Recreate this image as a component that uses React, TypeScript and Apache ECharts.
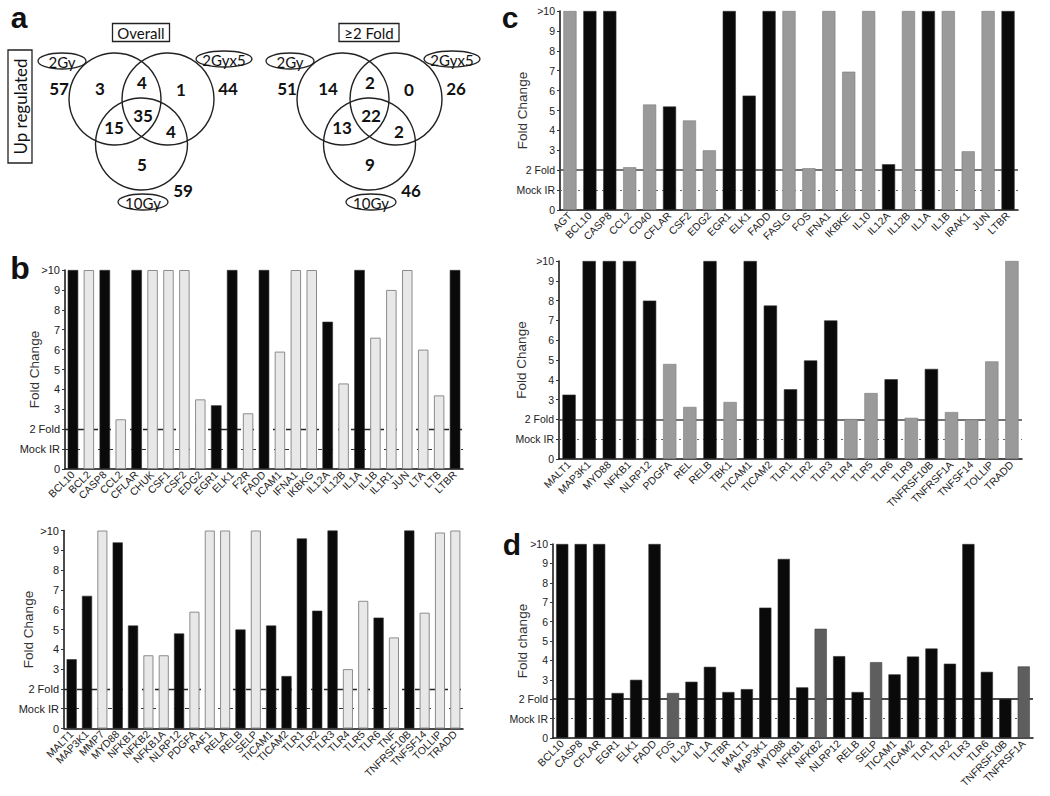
import React, { useEffect, useRef } from "react";
import * as echarts from "echarts";

// ---------- Panel a (Venn counts) ----------
// order: outLeft, leftOnly, topPair, rightOnly, outRight, center, leftBottom, rightBottom, bottomOnly, outBottom
const overallCounts = ["57", "3", "4", "1", "44", "35", "15", "4", "5", "59"];
const foldCounts = ["51", "14", "2", "0", "26", "22", "13", "2", "9", "46"];
const vennSets = ["2Gy", "2Gyx5", "10Gy"];

// ---------- Panel b ----------
const bTopGenes = ["BCL10", "BCL2", "CASP8", "CCL2", "CFLAR", "CHUK", "CSF1", "CSF2", "EDG2", "EGR1", "ELK1", "F2R", "FADD", "ICAM1", "IFNA1", "IKBKG", "IL12A", "IL12B", "IL1A", "IL1B", "IL1R1", "JUN", "LTA", "LTB", "LTBR"];
const bTopValues = [10, 10, 10, 2.5, 10, 10, 10, 10, 3.5, 3.2, 10, 2.8, 10, 5.9, 10, 10, 7.4, 4.3, 10, 6.6, 9.0, 10, 6.0, 3.7, 10];
const bTopShade = ["k", "l", "k", "l", "k", "l", "l", "l", "l", "k", "k", "l", "k", "l", "l", "l", "k", "l", "k", "l", "l", "l", "l", "l", "k"];

const bBotGenes = ["MALT1", "MAP3K1", "MMP7", "MYD88", "NFKB1", "NFKB2", "NFKB1A", "NLRP12", "PDGFA", "RAF1", "RELA", "RELB", "SELP", "TICAM1", "TICAM2", "TLR1", "TLR2", "TLR3", "TLR4", "TLR5", "TLR6", "TNF", "TNFRSF10B", "TNFSF14", "TOLLIP", "TRADD"];
const bBotValues = [3.5, 6.7, 10, 9.4, 5.2, 3.7, 3.7, 4.8, 5.9, 10, 10, 5.0, 10, 5.2, 2.65, 9.6, 5.95, 10, 3.0, 6.45, 5.6, 4.6, 10, 5.85, 9.9, 10];
const bBotShade = ["k", "k", "l", "k", "k", "l", "l", "k", "l", "l", "l", "k", "l", "k", "k", "k", "k", "k", "l", "l", "k", "l", "k", "l", "l", "l"];

// ---------- Panel c ----------
const cTopGenes = ["AGT", "BCL10", "CASP8", "CCL2", "CD40", "CFLAR", "CSF2", "EDG2", "EGR1", "ELK1", "FADD", "FASLG", "FOS", "IFNA1", "IKBKE", "IL10", "IL12A", "IL12B", "IL1A", "IL1B", "IRAK1", "JUN", "LTBR"];
const cTopValues = [10, 10, 10, 2.15, 5.3, 5.2, 4.5, 3.0, 10, 5.75, 10, 10, 2.1, 10, 6.95, 10, 2.3, 10, 10, 10, 2.95, 10, 10];
const cTopShade = ["g", "k", "k", "g", "g", "k", "g", "g", "k", "k", "k", "g", "g", "g", "g", "g", "k", "g", "k", "g", "g", "g", "k"];

const cBotGenes = ["MALT1", "MAP3K1", "MYD88", "NFKB1", "NLRP12", "PDGFA", "REL", "RELB", "TBK1", "TICAM1", "TICAM2", "TLR1", "TLR2", "TLR3", "TLR4", "TLR5", "TLR6", "TLR9", "TNFRSF10B", "TNFRSF1A", "TNFSF14", "TOLLIP", "TRADD"];
const cBotValues = [3.25, 10, 10, 10, 8.0, 4.8, 2.63, 10, 2.88, 10, 7.75, 3.52, 4.98, 7.0, 2.02, 3.33, 4.03, 2.08, 4.55, 2.37, 2.0, 4.93, 10];
const cBotShade = ["k", "k", "k", "k", "k", "g", "g", "k", "g", "k", "k", "k", "k", "k", "g", "g", "k", "g", "k", "g", "g", "g", "g"];

// ---------- Panel d ----------
const dGenes = ["BCL10", "CASP8", "CFLAR", "EGR1", "ELK1", "FADD", "FOS", "IL12A", "IL1A", "LTBR", "MALT1", "MAP3K1", "MYD88", "NFKB1", "NFKB2", "NLRP12", "RELB", "SELP", "TICAM1", "TICAM2", "TLR1", "TLR2", "TLR3", "TLR6", "TNFRSF10B", "TNFRSF1A"];
const dValues = [10, 10, 10, 2.32, 3.0, 10, 2.32, 2.9, 3.67, 2.37, 2.52, 6.72, 9.23, 2.61, 5.63, 4.22, 2.37, 3.91, 3.28, 4.2, 4.61, 3.83, 10, 3.41, 2.02, 3.69];
const dShade = ["k", "k", "k", "k", "k", "k", "g", "k", "k", "k", "k", "k", "k", "k", "g", "k", "k", "g", "k", "k", "k", "k", "k", "k", "k", "g"];

const yTickLabels: Record<number, string> = { 0: "0", 1: "Mock IR", 2: "2 Fold", 3: "3", 4: "4", 5: "5", 6: "6", 7: "7", 8: "8", 9: "9", 10: ">10" };

const FONT = "'Liberation Sans', Arial, sans-serif";
const VFONT = "Lato, 'Open Sans', sans-serif";

const paletteB: any = {
  k: { color: "#0a0a0a", borderColor: "#333", borderWidth: 0.6 },
  l: { color: "#e8e8e8", borderColor: "#8c8c8c", borderWidth: 1 },
};
const paletteC: any = {
  k: { color: "#0a0a0a", borderColor: "#333", borderWidth: 0.6 },
  g: { color: "#9a9a9a", borderColor: "#7a7a7a", borderWidth: 0.6 },
};
const paletteD: any = {
  k: { color: "#0a0a0a", borderColor: "#333", borderWidth: 0.6 },
  g: { color: "#5e5e5e", borderColor: "#444", borderWidth: 0.6 },
};

export default function App() {
  const ref = useRef<HTMLDivElement>(null);

  useEffect(() => {
    if (!ref.current) return;
    const chart = echarts.init(ref.current, undefined, { renderer: "svg" });

    const panels = [
      { genes: bTopGenes, values: bTopValues, shade: bTopShade, pal: paletteB, grid: { left: 65, top: 270, width: 398, height: 199 }, name: "Fold Change", gap: 24, style: "b", fs: 11 },
      { genes: bBotGenes, values: bBotValues, shade: bBotShade, pal: paletteB, grid: { left: 64, top: 530.5, width: 399, height: 198 }, name: "Fold Change", gap: 29, style: "b", fs: 11 },
      { genes: cTopGenes, values: cTopValues, shade: cTopShade, pal: paletteC, grid: { left: 560, top: 11, width: 458, height: 199 }, name: "Fold Change", gap: 31, style: "c", fs: 10.5 },
      { genes: cBotGenes, values: cBotValues, shade: cBotShade, pal: paletteC, grid: { left: 559, top: 261, width: 463, height: 198 }, name: "Fold Change", gap: 31, style: "c", fs: 10.5 },
      { genes: dGenes, values: dValues, shade: dShade, pal: paletteD, grid: { left: 553, top: 544, width: 480, height: 194 }, name: "Fold change", gap: 24, style: "d", fs: 10.5 },
    ];

    const lineStyles: any = {
      b: [
        { yAxis: 2, lineStyle: { color: "#222", type: [7, 6], width: 1.4 } },
        { yAxis: 1, lineStyle: { color: "#333", type: [4, 7], width: 1.2 } },
      ],
      c: [
        { yAxis: 2, lineStyle: { color: "#444", type: "solid", width: 1.5 } },
        { yAxis: 1, lineStyle: { color: "#666", type: [2, 4], width: 1.2 } },
      ],
      d: [
        { yAxis: 2, lineStyle: { color: "#111", type: "solid", width: 1.5 } },
        { yAxis: 1, lineStyle: { color: "#555", type: [2, 4], width: 1.2 } },
      ],
    };

    const grid = panels.map((p) => ({ ...p.grid, containLabel: false }));
    const xAxis = panels.map((p, i) => ({
      type: "category",
      gridIndex: i,
      data: p.genes,
      axisLine: { lineStyle: { color: "#111", width: 1.5 } },
      axisTick: { show: false },
      axisLabel: { rotate: 45, interval: 0, fontSize: 10.5, color: "#222", fontFamily: FONT, margin: 4 },
    }));
    const yAxis = panels.map((p, i) => ({
      type: "value",
      gridIndex: i,
      min: 0,
      max: 10,
      interval: 1,
      name: p.name,
      nameLocation: "middle",
      nameGap: p.gap,
      nameRotate: 90,
      nameMoveOverlap: false,
      nameTextStyle: { fontSize: 13.5, color: "#333", fontFamily: FONT },
      axisLine: { show: true, lineStyle: { color: "#111", width: 1.5 } },
      axisTick: { show: true, length: 3, lineStyle: { color: "#333" } },
      splitLine: { show: false },
      axisLabel: {
        fontSize: p.fs,
        color: "#222",
        fontFamily: FONT,
        margin: 5,
        formatter: (v: number) => yTickLabels[v] ?? "",
      },
    }));
    const series = panels.map((p, i) => ({
      type: "bar",
      xAxisIndex: i,
      yAxisIndex: i,
      z: 3,
      barWidth: "66%",
      data: p.values.map((v, j) => ({ value: v, itemStyle: p.pal[p.shade[j]] })),
      markLine: {
        silent: true,
        z: 1,
        symbol: "none",
        label: { show: false },
        data: lineStyles[p.style],
      },
    }));

    // ---------- Venn graphics ----------
    const stroke = { fill: "none", stroke: "#222", lineWidth: 1.4 };
    const numPos = [
      [59, 88], [100, 88], [142, 82], [181, 89], [228, 88],
      [143, 115], [114, 127], [171, 131], [142, 164], [183, 190],
    ];
    const venn = (ox: number, counts: string[], title: string, tw: number) => {
      const els: any[] = [];
      els.push({ type: "circle", shape: { cx: 115 + ox, cy: 99, r: 46 }, style: stroke });
      els.push({ type: "circle", shape: { cx: 168 + ox, cy: 99, r: 46 }, style: stroke });
      els.push({ type: "circle", shape: { cx: 141.5 + ox, cy: 144, r: 46 }, style: stroke });
      counts.forEach((c, k) => {
        els.push({
          type: "text",
          x: numPos[k][0] + ox,
          y: numPos[k][1],
          style: { text: c, fontSize: 17, fontWeight: "bold", fontFamily: VFONT, fill: "#111", align: "center", verticalAlign: "middle" },
        });
      });
      const ell = [
        { cx: 62, cy: 61, rx: 24, ry: 8 },
        { cx: 224, cy: 59, rx: 28, ry: 8 },
        { cx: 143, cy: 202, rx: 25, ry: 8 },
      ];
      ell.forEach((e, k) => {
        els.push({ type: "ellipse", shape: { cx: e.cx + ox, cy: e.cy, rx: e.rx, ry: e.ry }, style: { fill: "#fff", stroke: "#222", lineWidth: 1.3 }, z: 5 });
        els.push({ type: "text", x: e.cx + ox, y: e.cy + 1, z: 6, style: { text: vennSets[k], fontSize: 15, fontFamily: VFONT, fill: "#111", align: "center", verticalAlign: "middle" } });
      });
      els.push({ type: "rect", shape: { x: 141 + ox - tw / 2, y: 23.5, width: tw, height: 18 }, style: { fill: "#fff", stroke: "#222", lineWidth: 1.3 } });
      els.push({ type: "text", x: 141 + ox, y: 33, style: { text: title, fontSize: 15, fontFamily: VFONT, fill: "#111", align: "center", verticalAlign: "middle" } });
      return els;
    };

    const graphic: any[] = [
      ...venn(0, overallCounts, "Overall", 57),
      ...venn(228, foldCounts, "≥2 Fold", 60),
      { type: "rect", shape: { x: 8, y: 50, width: 24, height: 113 }, style: { fill: "#fff", stroke: "#222", lineWidth: 1.3 } },
      { type: "text", x: 20, y: 106.5, rotation: Math.PI / 2, style: { text: "Up regulated", fontSize: 17, fontFamily: VFONT, fill: "#111", align: "center", verticalAlign: "middle" } },
      { type: "text", x: 19, y: 17, style: { text: "a", fontSize: 30, fontWeight: "bold", fontFamily: FONT, fill: "#111", align: "center", verticalAlign: "middle" } },
      { type: "text", x: 20, y: 268, style: { text: "b", fontSize: 32, fontWeight: "bold", fontFamily: FONT, fill: "#111", align: "center", verticalAlign: "middle" } },
      { type: "text", x: 510, y: 17, style: { text: "c", fontSize: 30, fontWeight: "bold", fontFamily: FONT, fill: "#111", align: "center", verticalAlign: "middle" } },
      { type: "text", x: 512, y: 544, style: { text: "d", fontSize: 30, fontWeight: "bold", fontFamily: FONT, fill: "#111", align: "center", verticalAlign: "middle" } },
    ];

    chart.setOption({
      animation: false,
      backgroundColor: "#fff",
      textStyle: { fontFamily: FONT },
      grid,
      xAxis,
      yAxis,
      series,
      graphic,
    } as any);

    return () => chart.dispose();
  }, []);

  return <div ref={ref} style={{ position: "absolute", left: 0, top: 0, width: 1050, height: 796 }} />;
}
